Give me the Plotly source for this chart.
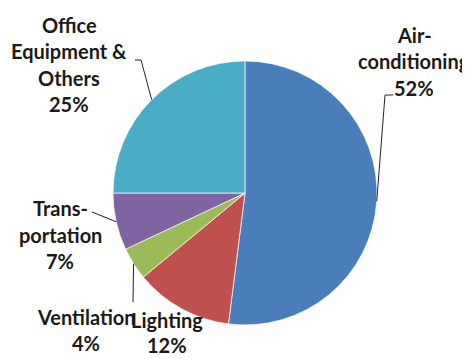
import math
import plotly.graph_objects as go

categories = ["Air-conditioning", "Lighting", "Ventilation", "Transportation", "Office Equipment & Others"]
values = [52, 12, 4, 7, 25]
label_lines = [["Air-", "conditioning"], ["Lighting"], ["Ventilation"], ["Trans-", "portation"], ["Office", "Equipment &", "Others"]]
colors = ["#4A7EBB", "#C0504D", "#9BBB59", "#8064A2", "#4BACC6"]

W, H = 470, 359
OFF = 8  # page body margin offset
CX, CY, R = 245, 193, 132

def px(x, y):
    return (x - OFF) / W, 1 - (y - OFF) / H

d0 = px(CX - R, CY + R)
d1 = px(CX + R, CY - R)
fig = go.Figure(go.Pie(
    labels=categories, values=values, sort=False, direction="clockwise", rotation=0,
    marker=dict(colors=colors, line=dict(color="rgba(255,255,255,0.7)", width=1)),
    textinfo="none", hoverinfo="label+percent", showlegend=False,
    domain=dict(x=[d0[0], d1[0]], y=[d0[1], d1[1]]),
))

# label placement (layout): center x, first-line y, line spacing
label_pos = [(414, 35), (167, 320), (86, 317), (60, 208), (69, 25)]
line_gaps = [26.5, 24.5, 25.5, 26.5, 26.5]
# leader-line elbows (layout), None = no leader line
elbows = [[(385, 95), (393, 95)], None, [(133, 302)], [(92, 212)], [(141, 60), (135, 60)]]

total = sum(values)
cum = 0
annotations = []
shapes = []
for i, v in enumerate(values):
    mid = (cum + v / 2) / total * 2 * math.pi
    cum += v
    ax = CX + R * math.sin(mid)
    ay = CY - R * math.cos(mid)
    lines = label_lines[i] + [f"{round(v / total * 100)}%"]
    lx, ly = label_pos[i]
    for j, t in enumerate(lines):
        xx, yy = px(lx, ly + j * line_gaps[i])
        annotations.append(dict(x=xx, y=yy, xref="paper", yref="paper", text=f"<b>{t}</b>",
                                showarrow=False, xanchor="center", yanchor="middle",
                                font=dict(family="Lato", size=20, color="#1a1a1a")))
    if elbows[i]:
        pts = [(ax, ay)] + elbows[i]
        path = "M " + " L ".join(f"{px(x, y)[0]},{px(x, y)[1]}" for x, y in pts)
        shapes.append(dict(type="path", xref="paper", yref="paper", path=path,
                           line=dict(color="#222222", width=1)))

fig.update_layout(width=W, height=H, margin=dict(l=0, r=0, t=0, b=0),
                  paper_bgcolor="white", plot_bgcolor="white",
                  annotations=annotations, shapes=shapes)
fig.write_html("out.html")
